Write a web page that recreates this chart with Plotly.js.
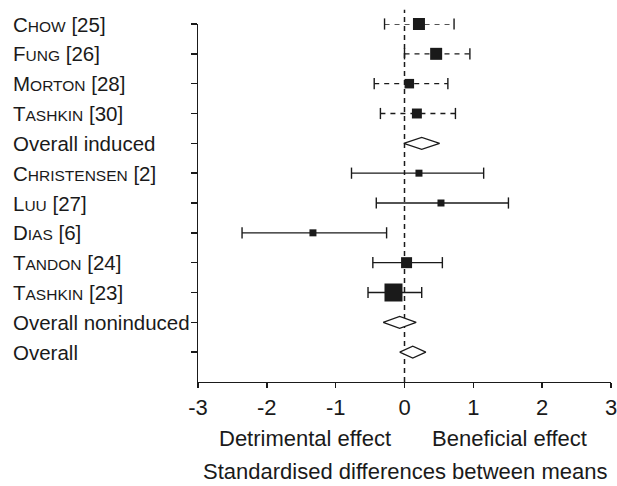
<!DOCTYPE html>
<html>
<head>
<meta charset="utf-8">
<script src="https://cdn.plot.ly/plotly-3.0.1.min.js"></script>
<style>html,body{margin:0;padding:0;background:#fff;}#chart{width:617px;height:486px;}</style>
</head>
<body>
<div id="chart"></div>
<script>
// ---- data ----
const names     = ['Chow', 'Fung', 'Morton', 'Tashkin', 'Overall induced', 'Christensen', 'Luu', 'Dias', 'Tandon', 'Tashkin', 'Overall noninduced', 'Overall'];
const refs      = ['[25]', '[26]', '[28]', '[30]', '', '[2]', '[27]', '[6]', '[24]', '[23]', '', ''];
const kinds     = ['induced', 'induced', 'induced', 'induced', 'summary', 'noninduced', 'noninduced', 'noninduced', 'noninduced', 'noninduced', 'summary', 'summary'];
const estimates = [0.21, 0.46, 0.07, 0.18, 0.25, 0.21, 0.53, -1.33, 0.03, -0.16, -0.07, 0.12];
const lower     = [-0.29, 0.00, -0.44, -0.35, -0.01, -0.77, -0.41, -2.36, -0.46, -0.53, -0.31, -0.07];
const upper     = [0.72, 0.95, 0.63, 0.74, 0.51, 1.15, 1.51, -0.26, 0.55, 0.25, 0.17, 0.31];
const weights   = [100, 100, 63, 69, null, 34, 34, 34, 84, 225, null, null];
const xTicks    = [-3, -2, -1, 0, 1, 2, 3];
const xTickText = ['-3', '-2', '-1', '0', '1', '2', '3'];

// ---- build ----
const INK = '#1a1a1a';
const FONT = 'Liberation Sans, Arial, sans-serif';
const rows = names.map((_, i) => i + 1);

function smallCaps(s) {
  return s.charAt(0).toUpperCase() + '<span style="font-size:15.5px">' + s.slice(1).toUpperCase() + '</span>';
}

const traces = [];
['induced', 'noninduced'].forEach(kind => {
  const lx = [], ly = [], cx = [], cy = [], mx = [], my = [], ms = [];
  rows.forEach((r, i) => {
    if (kinds[i] !== kind) return;
    lx.push(lower[i], upper[i], null); ly.push(r, r, null);
    cx.push(lower[i], upper[i]); cy.push(r, r);
    mx.push(estimates[i]); my.push(r); ms.push(1.2 * Math.sqrt(weights[i]));
  });
  traces.push({
    type: 'scatter', mode: 'lines', x: lx, y: ly, cliponaxis: false, hoverinfo: 'skip',
    line: {color: INK, width: 1.4, dash: kind === 'induced' ? '5px,5px' : 'solid'}
  });
  traces.push({
    type: 'scatter', mode: 'markers', x: cx, y: cy, cliponaxis: false, hoverinfo: 'skip',
    marker: {symbol: 'line-ns', size: 8, opacity: 1, line: {color: INK, width: 1.4}}
  });
  traces.push({
    type: 'scatter', mode: 'markers', x: mx, y: my, cliponaxis: false,
    marker: {symbol: 'square', size: ms, opacity: 1, color: INK, line: {width: 0}}
  });
});

const H = 0.2;
rows.forEach((r, i) => {
  if (kinds[i] !== 'summary') return;
  traces.push({
    type: 'scatter', mode: 'lines', fill: 'toself', fillcolor: '#ffffff', cliponaxis: false,
    x: [lower[i], estimates[i], upper[i], estimates[i], lower[i]],
    y: [r, r - H, r, r + H, r],
    line: {color: INK, width: 1.2}
  });
});

const annotations = rows.map((r, i) => ({
  xref: 'paper', yref: 'y', x: -0.453, y: r, xanchor: 'left', yanchor: 'middle',
  showarrow: false, font: {family: FONT, size: 20.5, color: INK},
  text: kinds[i] === 'summary' ? names[i] : smallCaps(names[i]) + ' ' + refs[i]
}));
annotations.push(
  {xref: 'x', yref: 'paper', x: -1.45, y: -0.158, xanchor: 'center', yanchor: 'middle', showarrow: false,
   font: {family: FONT, size: 22, color: INK}, text: 'Detrimental effect'},
  {xref: 'x', yref: 'paper', x: 1.52, y: -0.158, xanchor: 'center', yanchor: 'middle', showarrow: false,
   font: {family: FONT, size: 22, color: INK}, text: 'Beneficial effect'},
  {xref: 'x', yref: 'paper', x: 0, y: -0.25, xanchor: 'center', yanchor: 'middle', showarrow: false,
   font: {family: FONT, size: 22, color: INK}, text: 'Standardised differences between means'}
);

const layout = {
  width: 617, height: 486,
  margin: {l: 198, r: 6, t: 24, b: 104},
  paper_bgcolor: '#ffffff', plot_bgcolor: '#ffffff',
  showlegend: false,
  font: {family: FONT, color: INK},
  xaxis: {
    range: [-3, 3], tickvals: xTicks, ticktext: xTickText,
    showline: true, linecolor: INK, linewidth: 1.4,
    ticks: 'outside', ticklen: 5, tickwidth: 1.4, tickcolor: INK,
    showgrid: false, zeroline: false, ticklabeloverflow: 'allow',
    tickfont: {family: FONT, size: 22, color: INK}
  },
  yaxis: {
    range: [13, 1], tickvals: rows, showticklabels: false,
    showline: true, linecolor: INK, linewidth: 1.4,
    ticks: 'outside', ticklen: 6, tickwidth: 1.4, tickcolor: INK,
    showgrid: false, zeroline: false
  },
  shapes: [{
    type: 'line', xref: 'x', yref: 'paper', x0: 0, x1: 0, y0: 0, y1: 1.04, layer: 'below',
    line: {color: INK, width: 1.5, dash: '5px,4px'}
  }],
  annotations: annotations
};

Plotly.newPlot('chart', traces, layout, {staticPlot: true, displayModeBar: false});
</script>
</body>
</html>
